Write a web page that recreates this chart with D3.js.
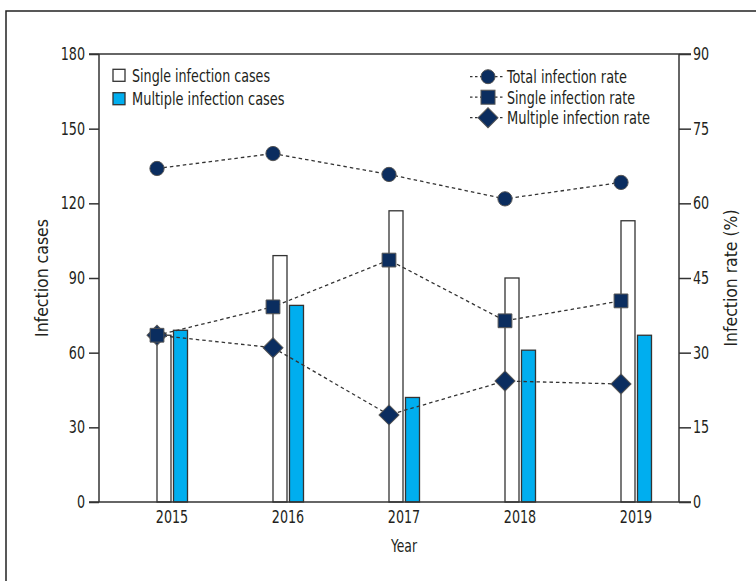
<!DOCTYPE html>
<html><head><meta charset="utf-8">
<script src="https://cdn.jsdelivr.net/npm/d3@7"></script>
<style>
body{margin:0;background:#fff;}
text{font-family:"DejaVu Sans Condensed","Liberation Sans Narrow","Noto Sans",sans-serif;fill:#231f20;}
</style></head><body>
<svg id="c" width="756" height="581"></svg>
<script>
const years = ["2015","2016","2017","2018","2019"];
const singleCases = [67, 99, 117, 90, 113];
const multipleCases = [69, 79, 42, 61, 67];
const totalRate = [67.0, 70.0, 65.8, 60.9, 64.2];
const singleRate = [33.5, 39.2, 48.6, 36.4, 40.4];
const multipleRate = [33.5, 31.0, 17.5, 24.3, 23.7];
const leftTicks = [0, 30, 60, 90, 120, 150, 180];
const rightTicks = [0, 15, 30, 45, 60, 75, 90];

const svg = d3.select("#c");
const L = 99, R = 679, T = 54, B = 502;
const ink = "#333";
const FS = 17, DIGIT = 8.1;
const fit = (sel, w) => sel.attr("textLength", w).attr("lengthAdjust", "spacingAndGlyphs");

svg.append("rect").attr("x",6).attr("y",11).attr("width",900).attr("height",900)
  .attr("fill","none").attr("stroke","#222").attr("stroke-width",1.5);

const x = d3.scaleBand().domain(years).range([L, R]);
const yL = d3.scaleLinear().domain([0,180]).range([B, T]);
const yR = d3.scaleLinear().domain([0,90]).range([B, T]);
const px = d => x(d) + x.bandwidth()/2;

// bars
const g = svg.append("g");
g.selectAll(".s").data(years).join("rect")
  .attr("x", (d)=>px(d)).attr("width", 14)
  .attr("y", (d,i)=>yL(singleCases[i])).attr("height",(d,i)=>B - yL(singleCases[i]))
  .attr("fill","#fff").attr("stroke",ink).attr("stroke-width",1.3);
g.selectAll(".m").data(years).join("rect")
  .attr("x", (d)=>px(d)+16.5).attr("width", 14)
  .attr("y", (d,i)=>yL(multipleCases[i])).attr("height",(d,i)=>B - yL(multipleCases[i]))
  .attr("fill","#00aeef").attr("stroke",ink).attr("stroke-width",1.3);

// axes frame
const axisG = svg.append("g").attr("stroke",ink).attr("stroke-width",1.5);
axisG.append("line").attr("x1",L-10).attr("x2",R+12).attr("y1",T).attr("y2",T);
axisG.append("line").attr("x1",L-10).attr("x2",R+12).attr("y1",B).attr("y2",B);
axisG.append("line").attr("x1",L).attr("x2",L).attr("y1",T).attr("y2",B);
axisG.append("line").attr("x1",R).attr("x2",R).attr("y1",T).attr("y2",B);

const la = svg.append("g").attr("transform",`translate(${L},0)`)
  .call(d3.axisLeft(yL).tickValues(leftTicks).tickSize(10).tickPadding(4));
const ra = svg.append("g").attr("transform",`translate(${R},0)`)
  .call(d3.axisRight(yR).tickValues(rightTicks).tickSize(12).tickPadding(2));
const xa = svg.append("g").attr("transform",`translate(15,${B})`)
  .call(d3.axisBottom(x).tickSize(0).tickPadding(9));
xa.select(".domain").remove();
[la, ra, xa].forEach(a=>{
  a.select(".domain").remove();
  a.selectAll("line").attr("stroke",ink).attr("stroke-width",1.5);
  a.selectAll("text").attr("font-size",FS).attr("fill","#231f20")
    .style("font-family",'"DejaVu Sans Condensed","Liberation Sans Narrow",sans-serif')
    .each(function(){ const t=d3.select(this); fit(t, t.text().length*DIGIT); });
});

// lines
const dash = "3.5,3";
function series(vals, kind){
  const line = d3.line().x((d,i)=>px(years[i])).y(d=>yR(d));
  svg.append("path").datum(vals).attr("d",line).attr("fill","none")
    .attr("stroke",ink).attr("stroke-width",1.3).attr("stroke-dasharray",dash);
  const type = kind==="circle" ? d3.symbolCircle : d3.symbolSquare;
  const size = kind==="circle" ? 160 : kind==="square" ? 190 : 200;
  const sym = d3.symbol().type(type).size(size);
  svg.append("g").selectAll("path").data(vals).join("path")
    .attr("transform",(d,i)=>`translate(${px(years[i])},${yR(d)})`+(kind==="diamond"?" rotate(45)":""))
    .attr("d",sym).attr("fill","#0b2d5f").attr("stroke","#555").attr("stroke-width",1);
}
series(multipleRate, "diamond");
series(singleRate, "square");
series(totalRate, "circle");

// axis titles
fit(svg.append("text").attr("transform",`translate(48,${(T+B)/2}) rotate(-90)`)
  .attr("text-anchor","middle").attr("font-size",FS).text("Infection cases"), 118);
fit(svg.append("text").attr("transform",`translate(737,${(T+B)/2}) rotate(-90)`)
  .attr("text-anchor","middle").attr("font-size",FS).text("Infection rate (%)"), 137);
fit(svg.append("text").attr("x",px("2017")+15).attr("y",552)
  .attr("text-anchor","middle").attr("font-size",FS).text("Year"), 26);

// left legend
const legL = [["Single infection cases","#fff",138],["Multiple infection cases","#00aeef",152.6]];
legL.forEach((d,i)=>{
  const yy = 75.3 + i*23.4;
  svg.append("rect").attr("x",113).attr("y",yy-6).attr("width",12).attr("height",12)
    .attr("fill",d[1]).attr("stroke",ink).attr("stroke-width",1.3);
  fit(svg.append("text").attr("x",132).attr("y",yy+6.5).attr("font-size",FS).text(d[0]), d[2]);
});
// right legend
const legR = [["Total infection rate","circle",120],["Single infection rate","square",128],["Multiple infection rate","diamond",143]];
legR.forEach((d,i)=>{
  const yy = 76.7 + i*20.5;
  svg.append("line").attr("x1",470).attr("x2",504).attr("y1",yy).attr("y2",yy)
    .attr("stroke",ink).attr("stroke-width",1.3).attr("stroke-dasharray","2.5,2.5");
  let p;
  if(d[1]==="circle") p = svg.append("circle").attr("cx",488).attr("cy",yy).attr("r",7);
  else if(d[1]==="square") p = svg.append("rect").attr("x",481).attr("y",yy-7).attr("width",14).attr("height",14);
  else p = svg.append("path").attr("d",d3.symbol().type(d3.symbolSquare).size(200)()).attr("transform",`translate(488,${yy}) rotate(45)`);
  p.attr("fill","#0b2d5f").attr("stroke","#555").attr("stroke-width",1);
  fit(svg.append("text").attr("x",507).attr("y",yy+6.5).attr("font-size",FS).text(d[0]), d[2]);
});
</script></body></html>
